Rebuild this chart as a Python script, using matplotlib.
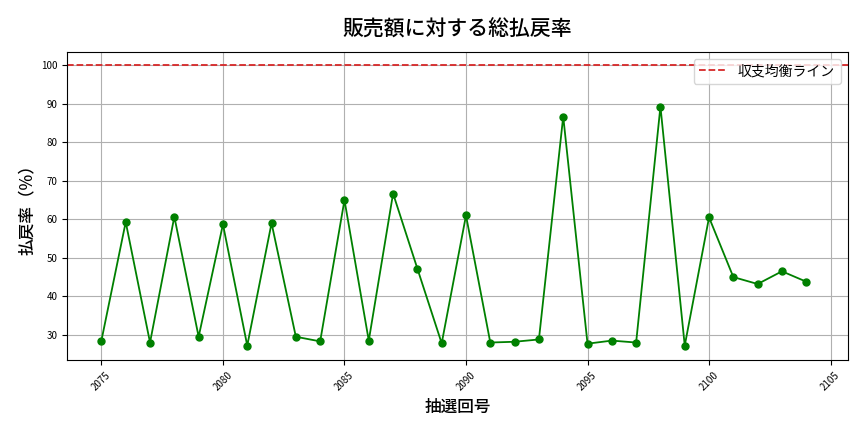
import matplotlib
matplotlib.use("Agg")
import matplotlib.pyplot as plt

plt.rcParams['font.family'] = ['Noto Sans CJK JP', 'DejaVu Sans']

draws = list(range(2075, 2105))
rates = [28.5, 59.3, 28.0, 60.7, 29.5, 58.7, 27.2, 59.0, 29.5, 28.3,
         65.0, 28.5, 66.7, 47.2, 27.8, 61.0, 28.0, 28.2, 28.8, 86.7,
         27.7, 28.5, 28.0, 89.3, 27.2, 60.5, 45.0, 43.2, 46.5, 43.8]

fig = plt.figure(figsize=(8.64, 4.32), dpi=100)
ax = fig.add_axes([0.078, 0.167, 0.903, 0.713])
ax.plot(draws, rates, color='green', marker='o', markersize=5, linewidth=1.3)
ax.axhline(100, color='#d62728', linestyle='--', linewidth=1.3, label='収支均衡ライン')
ax.set_xlim(2073.6, 2105.7)
ax.set_ylim(23.5, 103.5)
ax.set_xticks(range(2075, 2106, 5))
ax.tick_params(axis='x', labelrotation=45, labelsize=7)
ax.tick_params(axis='y', labelsize=7)
ax.grid(True, color='#b0b0b0', linewidth=0.8)
ax.set_title('販売額に対する総払戻率', fontsize=15, pad=12, fontweight='medium')
ax.set_xlabel('抽選回号', fontsize=12, fontweight='medium')
ax.set_ylabel('払戻率（%）', fontsize=12, fontweight='medium')
ax.legend(loc='upper right', fontsize=10)
fig.savefig('out.png')
